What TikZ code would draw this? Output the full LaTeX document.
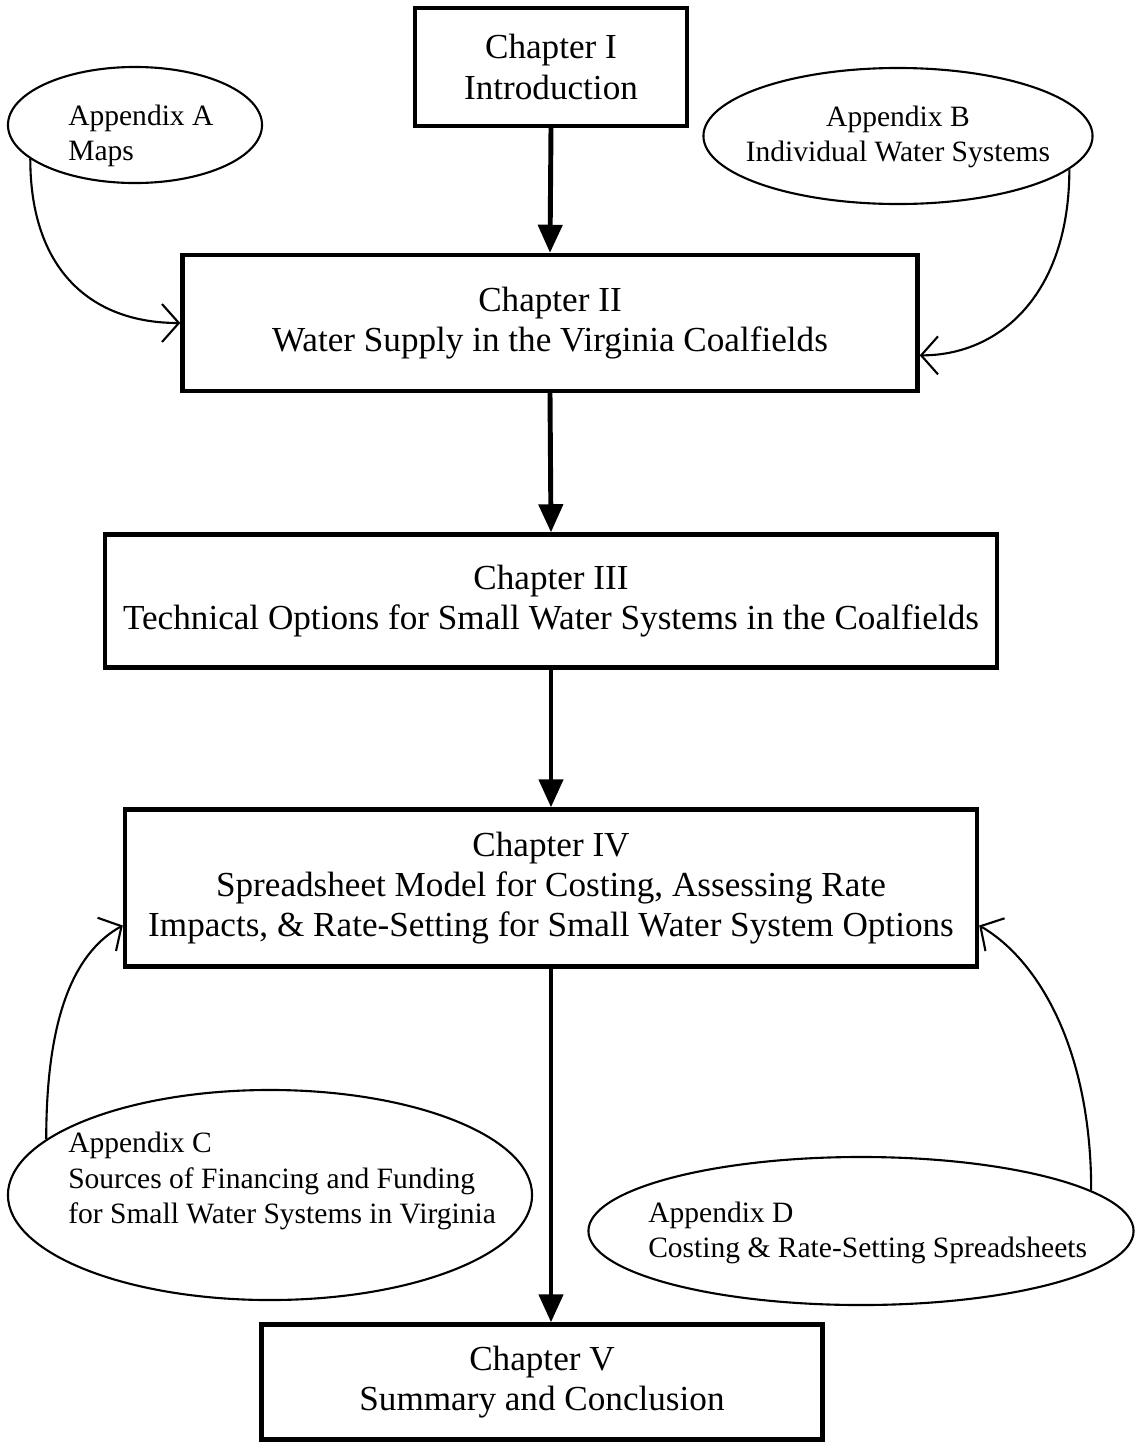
\documentclass[tikz,border=0pt]{standalone}
\usepackage{fontspec}
\setmainfont{Liberation Serif}
\usetikzlibrary{shapes.geometric,arrows.meta}
\begin{document}
\begin{tikzpicture}[x=0.025cm,y=-0.025cm,
  chapbox/.style={shape=rectangle,draw,line width=3pt,align=center,inner sep=0pt,
    font=\fontsize{25}{28.5}\selectfont},
  appell/.style={shape=ellipse,draw,line width=1.5pt,inner sep=0pt},
  apptext/.style={align=left,inner sep=0pt,font=\fontsize{21}{25}\selectfont},
  mainarrow/.style={line width=3.5pt,-{Triangle[length=20pt,width=17pt]}},
  sidearrow/.style={line width=1.5pt,-{Straight Barb[length=12pt,width=27pt]}}]
\useasboundingbox (0,0) rectangle (1138,1442);

\node(ch1) at (551,67)[chapbox,minimum width=6.8cm,minimum height=2.95cm]
  {Chapter I\\Introduction};
\node(ch2) at (550,323)[chapbox,minimum width=18.375cm,minimum height=3.4cm]
  {Chapter II\\Water Supply in the Virginia Coalfields};
\node(ch3) at (551,601)[chapbox,minimum width=22.3cm,minimum height=3.325cm]
  {Chapter III\\Technical Options for Small Water Systems in the Coalfields};
\node(ch4) at (551,888)[chapbox,minimum width=21.3cm,minimum height=3.925cm]
  {Chapter IV\\Spreadsheet Model for Costing, Assessing Rate\\Impacts, \& Rate-Setting for Small Water System Options};
\node(ch5) at (542,1382)[chapbox,minimum width=14.025cm,minimum height=2.875cm]
  {Chapter V\\Summary and Conclusion};

\node(appA) at (135,125)[appell,minimum width=6.35cm,minimum height=2.9cm] {};
\node(appB) at (898,136)[appell,minimum width=9.725cm,minimum height=3.4cm] {};
\node(appC) at (270,1195)[appell,minimum width=13.1cm,minimum height=5.25cm] {};
\node(appD) at (861,1231)[appell,minimum width=13.625cm,minimum height=3.7cm] {};

\node(appAtext) at (68,136)[apptext,anchor=west] {Appendix A\\Maps};
\node(appBtext) at (898,137)[apptext,align=center] {Appendix B\\Individual Water Systems};
\node(appCtext) at (68,1181)[apptext,anchor=west]
  {Appendix C\\Sources of Financing and Funding\\for Small Water Systems in Virginia};
\node(appDtext) at (648,1233)[apptext,anchor=west]
  {Appendix D\\Costing \& Rate-Setting Spreadsheets};

\draw[mainarrow] (ch1.south) -- (ch2.north);
\draw[mainarrow] (ch2.south) -- (ch3.north);
\draw[mainarrow] (ch3.south) -- (ch4.north);
\draw[mainarrow] (ch4.south) -- (ch4.south |- ch5.north);

\draw[sidearrow] (appA.198) .. controls +(0,110) and +(-90,0) .. (ch2.west);
\draw[sidearrow] (appB.-11) .. controls +(0,125) and +(80,0) .. (ch2.-5);
\draw[sidearrow] (appC.166) .. controls +(0,-130) and +(-45,25) .. (ch4.185);
\draw[sidearrow] (appD.10) .. controls +(0,-140) and +(60,35) .. (ch4.-5);
\end{tikzpicture}
\end{document}
